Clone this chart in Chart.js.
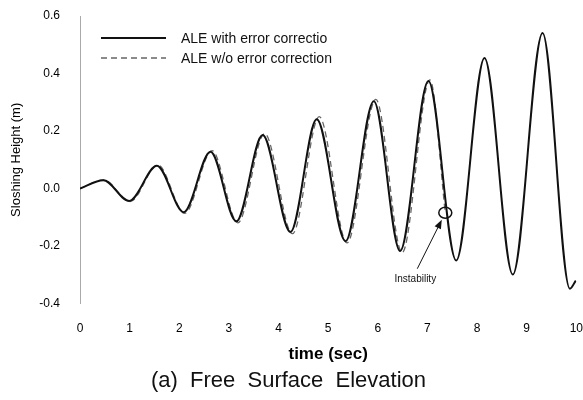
<!DOCTYPE html>
<html>
<head>
<meta charset="utf-8">
<script src="https://cdn.jsdelivr.net/npm/chart.js@4.4.1/dist/chart.umd.min.js"></script>
<style>
  html, body { margin: 0; padding: 0; background: #fff; }
  #wrap { width: 583px; height: 400px; }
</style>
</head>
<body>
<div id="wrap"><canvas id="chart" width="583" height="400"></canvas></div>
<script>
// ─── Data ─────────────────────────────────────────────────────
const SERIES_NAMES = ['ALE with error correctio', 'ALE w/o error correction'];

// ALE with error correction – turning points of the oscillation
const SOLID_T = [0, 0.47, 0.99, 1.55, 2.09, 2.63, 3.15, 3.68, 4.24, 4.77, 5.35, 5.92, 6.45, 7.02, 7.58, 8.15, 8.72, 9.32, 9.87, 9.99];
const SOLID_H = [0, 0.029, -0.043, 0.079, -0.082, 0.128, -0.114, 0.186, -0.151, 0.241, -0.183, 0.304, -0.217, 0.374, -0.25, 0.454, -0.299, 0.541, -0.348, -0.32];

// ALE w/o error correction – stops at the instability
const DASH_T = [0, 0.48, 1.01, 1.57, 2.11, 2.66, 3.18, 3.72, 4.28, 4.82, 5.38, 5.96, 6.49, 7.05, 7.36];
const DASH_H = [0, 0.03, -0.045, 0.082, -0.086, 0.132, -0.119, 0.191, -0.157, 0.25, -0.189, 0.31, -0.223, 0.378, -0.084];

const X_TICKS = [0, 1, 2, 3, 4, 5, 6, 7, 8, 9, 10];
const Y_TICKS = [-0.4, -0.2, 0.0, 0.2, 0.4, 0.6];

const INSTABILITY = { t: 7.36, h: -0.084, label: 'Instability' };

const FONT = "'Liberation Sans', Arial, sans-serif";

// ─── Legend + annotation drawn on the canvas ─────────────────
const overlayPlugin = {
  id: 'overlay',
  afterDatasetsDraw(chart) {
    const { ctx, chartArea, scales } = chart;
    ctx.save();

    // legend
    const lx0 = chartArea.left + 21, lx1 = chartArea.left + 86;
    const rows = [
      { y: chartArea.top + 22, dash: [], color: '#111', width: 2 },
      { y: chartArea.top + 42, dash: [6, 4], color: '#666', width: 1.3 },
    ];
    rows.forEach((r, i) => {
      ctx.beginPath();
      ctx.setLineDash(r.dash);
      ctx.strokeStyle = r.color;
      ctx.lineWidth = r.width;
      ctx.moveTo(lx0, r.y);
      ctx.lineTo(lx1, r.y);
      ctx.stroke();
      ctx.setLineDash([]);
      ctx.fillStyle = '#111';
      ctx.font = '14px ' + FONT;
      ctx.textBaseline = 'middle';
      ctx.textAlign = 'left';
      ctx.fillText(SERIES_NAMES[i], lx0 + 80, r.y + 1);
    });

    // instability marker
    const cx = scales.x.getPixelForValue(INSTABILITY.t);
    const cy = scales.y.getPixelForValue(INSTABILITY.h);
    ctx.beginPath();
    ctx.strokeStyle = '#111';
    ctx.lineWidth = 1.5;
    ctx.ellipse(cx, cy, 6.5, 5.5, 0, 0, Math.PI * 2);
    ctx.stroke();

    // arrow
    const tx = cx - 28, ty = cy + 56;
    const hx = cx - 3.5, hy = cy + 7;
    const ang = Math.atan2(hy - ty, hx - tx);
    ctx.beginPath();
    ctx.lineWidth = 1;
    ctx.moveTo(tx, ty);
    ctx.lineTo(hx - Math.cos(ang) * 6, hy - Math.sin(ang) * 6);
    ctx.stroke();
    ctx.beginPath();
    ctx.fillStyle = '#111';
    ctx.moveTo(hx, hy);
    ctx.lineTo(hx - Math.cos(ang) * 9 + Math.sin(ang) * 3.5, hy - Math.sin(ang) * 9 - Math.cos(ang) * 3.5);
    ctx.lineTo(hx - Math.cos(ang) * 9 - Math.sin(ang) * 3.5, hy - Math.sin(ang) * 9 + Math.cos(ang) * 3.5);
    ctx.closePath();
    ctx.fill();

    ctx.font = '10px ' + FONT;
    ctx.textAlign = 'center';
    ctx.textBaseline = 'middle';
    ctx.fillText(INSTABILITY.label, cx - 30, cy + 67);

    ctx.restore();
  }
};

// ─── Chart ────────────────────────────────────────────────────
new Chart(document.getElementById('chart'), {
  type: 'line',
  data: {
    datasets: [
      {
        label: SERIES_NAMES[0],
        data: SOLID_T.map((t, i) => ({ x: t, y: SOLID_H[i] })),
        borderColor: '#111',
        borderWidth: 2,
        pointRadius: 0,
        cubicInterpolationMode: 'monotone',
      },
      {
        label: SERIES_NAMES[1],
        data: DASH_T.map((t, i) => ({ x: t, y: DASH_H[i] })),
        borderColor: '#666',
        borderWidth: 1.3,
        borderDash: [6, 4],
        pointRadius: 0,
        cubicInterpolationMode: 'monotone',
      },
    ]
  },
  options: {
    responsive: false,
    animation: false,
    layout: { padding: { top: 16, right: 6, left: 0, bottom: 0 } },
    plugins: {
      legend: { display: false },
      tooltip: { enabled: false },
      title: {
        display: true,
        position: 'bottom',
        text: '(a)  Free  Surface  Elevation',
        color: '#111',
        font: { family: FONT, size: 22, weight: 'normal' },
        padding: { top: 0, bottom: 6 },
      },
    },
    scales: {
      x: {
        type: 'linear',
        min: 0, max: 10,
        afterBuildTicks: s => { s.ticks = X_TICKS.map(v => ({ value: v })); },
        afterFit: s => { s.height = 64; },
        grid: { display: true, color: 'transparent', drawOnChartArea: false, drawTicks: true, tickLength: 18 },
        border: { display: false },
        ticks: { padding: 0, color: '#000', font: { family: FONT, size: 12 } },
        title: {
          display: true, text: 'time (sec)', color: '#000',
          font: { family: FONT, size: 17, weight: 'bold' },
          padding: { top: 0, bottom: 3 },
        },
      },
      y: {
        min: -0.4, max: 0.6,
        afterBuildTicks: s => { s.ticks = Y_TICKS.map(v => ({ value: v })); },
        afterFit: s => { s.width = 80; },
        grid: { display: true, color: 'transparent', drawOnChartArea: false, drawTicks: true, tickLength: 20 },
        border: { display: true, color: '#aaa', width: 1, dash: [1, 3] },
        ticks: {
          padding: 0, color: '#000',
          font: { family: FONT, size: 12 },
          callback: v => v.toFixed(1),
        },
        title: {
          display: true, text: 'Sloshing Height (m)', color: '#000',
          font: { family: FONT, size: 13 },
          padding: { top: 9, bottom: 0 },
        },
      },
    },
  },
  plugins: [overlayPlugin],
});
</script>
</body>
</html>
